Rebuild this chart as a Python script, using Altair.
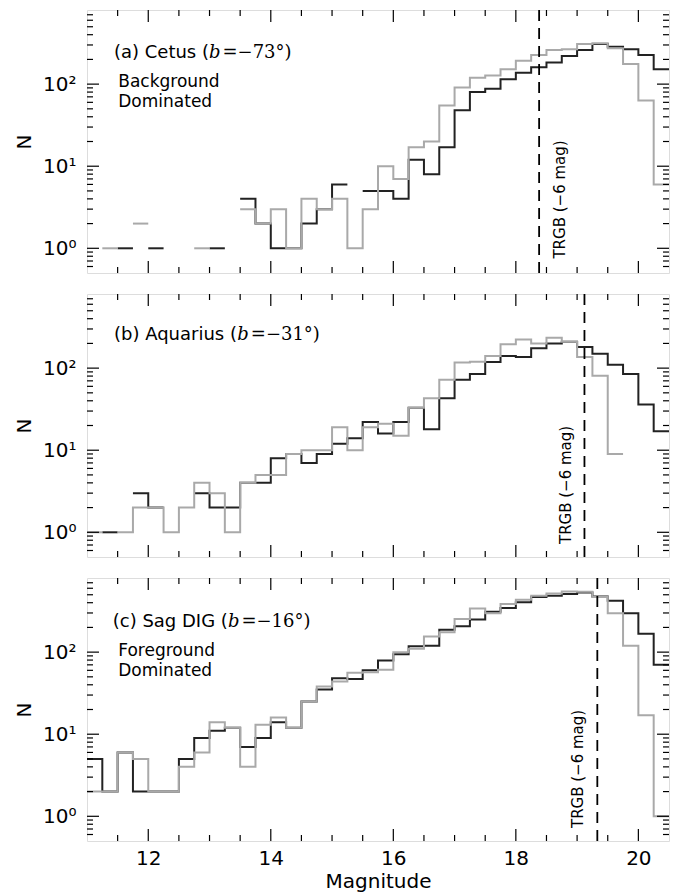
import altair as alt
import pandas as pd

# ---------------- data ----------------
bin_left = [11.0, 11.25, 11.5, 11.75, 12.0, 12.25, 12.5, 12.75, 13.0, 13.25,
            13.5, 13.75, 14.0, 14.25, 14.5, 14.75, 15.0, 15.25, 15.5, 15.75,
            16.0, 16.25, 16.5, 16.75, 17.0, 17.25, 17.5, 17.75, 18.0, 18.25,
            18.5, 18.75, 19.0, 19.25, 19.5, 19.75, 20.0, 20.25]
bin_width = 0.25

cetus_black = [0, 0, 1, 0, 1, 0, 0, 0, 1, 0, 4, 2, 1, 1, 2, 3, 6, 0, 5, 5,
               4, 12, 8, 17, 48, 80, 88, 115, 138, 161, 183, 220, 261, 308, 286, 266, 227, 152]
cetus_grey = [0, 1, 0, 2, 0, 0, 0, 1, 0, 0, 3, 2, 3, 1, 4, 3, 4, 1, 3, 10,
              7, 17, 20, 55, 91, 120, 127, 152, 192, 227, 261, 266, 308, 314, 273, 176, 63, 6]

aquarius_black = [0, 1, 0, 3, 2, 0, 0, 3, 2, 2, 4, 4, 8, 9, 7, 9, 12, 14, 22, 16,
                  22, 33, 18, 43, 72, 85, 119, 141, 137, 175, 199, 210, 181, 150, 110, 85, 36, 17]
aquarius_grey = [1, 0, 1, 2, 2, 1, 2, 4, 3, 1, 4, 5, 5, 9, 10, 10, 19, 10, 19, 21,
                 15, 33, 43, 72, 117, 120, 141, 195, 224, 199, 235, 210, 137, 81, 9, 0, 0, 0]

sagdig_black = [5, 2, 6, 2, 2, 2, 5, 9, 11, 12, 7, 9, 14, 12, 25, 35, 48, 47, 60, 79,
                94, 118, 120, 187, 207, 249, 311, 344, 404, 469, 486, 509, 534, 477, 423, 297, 167, 70]
sagdig_grey = [2, 2, 6, 5, 2, 2, 4, 6, 14, 12, 4, 13, 16, 12, 25, 38, 44, 56, 57, 61,
               100, 110, 155, 175, 254, 341, 297, 385, 434, 486, 519, 548, 543, 470, 297, 120, 17, 1]

panel_names = ["(a) Cetus (", "(b) Aquarius (", "(c) Sag DIG ("]
panel_lat = ["=\u221273\u00b0)", "=\u221231\u00b0)", "=\u221216\u00b0)"]
panel_notes = [["Background", "Dominated"], [], ["Foreground", "Dominated"]]
trgb_mag = [18.38, 19.12, 19.33]
trgb_label = "TRGB (\u22126 mag)"

x_major = [12, 14, 16, 18, 20]
x_minor = [11.5, 12.5, 13, 13.5, 14.5, 15, 15.5, 16.5, 17, 17.5, 18.5, 19, 19.5]
y_major = [1, 10, 100]
y_minor = [0.6, 0.7, 0.8, 0.9, 2, 3, 4, 5, 6, 7, 8, 9,
           20, 30, 40, 50, 60, 70, 80, 90, 200, 300, 400, 500, 600, 700]

# ---------------- layout / style ----------------
W, H = 582, 263
FONT = "DejaVu Sans"
SERIF = "DejaVu Serif"
X_DOMAIN = [11.0, 20.5]
Y_DOMAIN = [0.5, 800]
BLACK = "#222222"
GREY = "#a9a9a9"
TITLE_SIZE = 18

# annotation anchor positions (data coordinates)
title_pos = [(11.44, 240), (11.44, 256), (11.42, 236)]
note_pos = [[(11.51, 106), (11.51, 61)], [], [(11.51, 104), (11.51, 59)]]
trgb_text_pos = [(18.72, 0.75), (18.82, 0.72), (19.02, 0.72)]

# approximate advance widths (em) used to chain the text pieces of the panel titles
SANS_W = {"(": 0.39, ")": 0.39, " ": 0.318, "a": 0.613, "b": 0.635, "c": 0.55, "e": 0.615,
          "t": 0.392, "u": 0.634, "s": 0.521, "q": 0.635, "r": 0.411, "i": 0.278,
          "g": 0.635, "C": 0.698, "A": 0.684, "S": 0.635, "D": 0.77, "I": 0.295, "G": 0.775}


def text_width(s, table, size):
    return sum(table.get(ch, 0.636) for ch in s) * size


def step_frame(counts):
    rows = []
    seg = 0
    k = 0
    prev_zero = True
    for lo, c in zip(bin_left, counts):
        if c <= 0:
            prev_zero = True
            continue
        if prev_zero:
            seg += 1
            prev_zero = False
        rows.append({"mag": lo, "n": c, "seg": seg, "k": k})
        k += 1
        rows.append({"mag": lo + bin_width, "n": c, "seg": seg, "k": k})
        k += 1
    return pd.DataFrame(rows)


def X(field, show_axis):
    if show_axis:
        ax = alt.Axis(values=x_major, format="d", ticks=False, tickSize=0, domain=False,
                      grid=False, labelFontSize=20, labelFont=FONT, labelColor="black",
                      labelPadding=7, title="Magnitude", titleFontSize=20, titleFont=FONT,
                      titleFontWeight="normal", titleColor="black", titlePadding=3,
                      labelFlush=False)
    else:
        ax = None
    return alt.X(f"{field}:Q", scale=alt.Scale(domain=X_DOMAIN, nice=False, zero=False),
                 axis=ax)


def Y(field):
    ax = alt.Axis(values=y_major,
                  labelExpr="datum.value == 1 ? '10\u2070' : (datum.value == 10 ? '10\u00b9' : '10\u00b2')",
                  ticks=False, tickSize=0, domain=False, grid=False,
                  labelFontSize=20, labelFont=FONT, labelColor="black", labelPadding=11,
                  title="N", titleFontSize=20, titleFont=FONT, titleFontWeight="normal",
                  titleColor="black", titlePadding=8)
    return alt.Y(f"{field}:Q", scale=alt.Scale(type="log", domain=Y_DOMAIN, nice=False),
                 axis=ax)


def tick_layers(show_axis):
    layers = []
    for vals, ln in [(x_major, 12), (x_minor, 6)]:
        df = pd.DataFrame({"tv": vals})
        layers.append(alt.Chart(df).mark_rule(color="black", strokeWidth=1.2).encode(
            x=X("tv", show_axis), y=alt.value(H), y2=alt.value(H - ln)))
        layers.append(alt.Chart(df).mark_rule(color="black", strokeWidth=1.2).encode(
            x=X("tv", show_axis), y=alt.value(0), y2=alt.value(ln)))
    for vals, ln in [(y_major, 12), (y_minor, 6)]:
        df = pd.DataFrame({"tn": vals})
        layers.append(alt.Chart(df).mark_rule(color="black", strokeWidth=1.2).encode(
            y=Y("tn"), x=alt.value(0), x2=alt.value(ln)))
        layers.append(alt.Chart(df).mark_rule(color="black", strokeWidth=1.2).encode(
            y=Y("tn"), x=alt.value(W), x2=alt.value(W - ln)))
    return layers


def title_layers(i, show_axis):
    px, py = title_pos[i]
    df = pd.DataFrame({"px": [px], "py": [py]})
    w1 = text_width(panel_names[i], SANS_W, TITLE_SIZE)
    wb = 0.64 * TITLE_SIZE
    pieces = [
        (panel_names[i], 0, FONT, "normal"),
        ("b", w1, SERIF, "italic"),
        (panel_lat[i], w1 + wb + 2, SERIF, "normal"),
    ]
    out = []
    for txt, dx, font, style in pieces:
        out.append(alt.Chart(df).mark_text(
            align="left", baseline="middle", fontSize=TITLE_SIZE, font=font,
            fontStyle=style, color="black", dx=dx, text=txt).encode(
            x=X("px", show_axis), y=Y("py")))
    return out


def panel(i, black, grey, show_axis):
    layers = []
    bdf = step_frame(black)
    gdf = step_frame(grey)
    layers.append(alt.Chart(bdf).mark_line(color=BLACK, strokeWidth=2, clip=True).encode(
        x=X("mag", show_axis), y=Y("n"), detail="seg:N", order="k:Q"))
    layers.append(alt.Chart(gdf).mark_line(color=GREY, strokeWidth=2, clip=True).encode(
        x=X("mag", show_axis), y=Y("n"), detail="seg:N", order="k:Q"))
    layers.append(alt.Chart(pd.DataFrame({"t": [trgb_mag[i]]})).mark_rule(
        color="black", strokeWidth=1.8, strokeDash=[11, 7]).encode(x=X("t", show_axis)))
    tx, ty = trgb_text_pos[i]
    layers.append(alt.Chart(pd.DataFrame({"tx": [tx], "ty": [ty], "lab": [trgb_label]})).mark_text(
        angle=270, align="left", baseline="middle", fontSize=15, font=FONT, color="black").encode(
        x=X("tx", show_axis), y=Y("ty"), text="lab:N"))
    layers += title_layers(i, show_axis)
    if panel_notes[i]:
        nd = pd.DataFrame({"px": [p[0] for p in note_pos[i]],
                           "py": [p[1] for p in note_pos[i]],
                           "lab": panel_notes[i]})
        layers.append(alt.Chart(nd).mark_text(
            align="left", baseline="middle", fontSize=17, font=FONT, color="black").encode(
            x=X("px", show_axis), y=Y("py"), text="lab:N"))
    layers += tick_layers(show_axis)
    return alt.layer(*layers).properties(width=W, height=H)


pa = panel(0, cetus_black, cetus_grey, False)
pb = panel(1, aquarius_black, aquarius_grey, False)
pc = panel(2, sagdig_black, sagdig_grey, True)

chart = alt.vconcat(pa, pb, pc, spacing=21, bounds="flush").properties(
    padding={"left": 6, "top": 0, "right": 2, "bottom": 0}
).configure_view(stroke="black", strokeWidth=1.6).configure(font=FONT)

chart.save("out.html", embed_options={"renderer": "svg", "actions": False})
